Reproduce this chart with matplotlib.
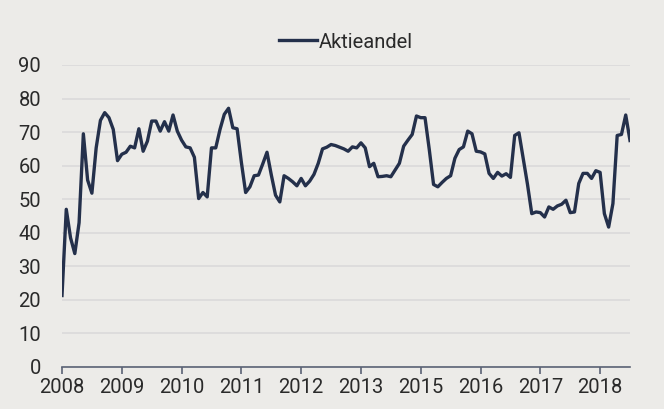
import matplotlib.pyplot as plt
import numpy as np

# monthly share of equities (Aktieandel)
aktieandel = [
    21.3, 47.0, 38.5, 33.8, 43.0, 69.5, 55.7, 51.8, 65.3, 73.5,
    75.8, 74.3, 70.8, 61.5, 63.4, 64.0, 65.8, 65.3, 71.0, 64.3,
    67.3, 73.3, 73.3, 70.3, 73.1, 70.3, 75.1, 70.3, 67.6, 65.6,
    65.3, 62.5, 50.2, 52.0, 50.7, 65.3, 65.3, 70.8, 75.3, 77.1,
    71.3, 71.0, 61.0, 52.0, 53.7, 57.0, 57.2, 60.5, 64.0, 57.3,
    51.2, 49.2, 57.0, 56.2, 55.2, 54.0, 56.2, 54.0, 55.4, 57.4,
    60.7, 65.0, 65.5, 66.3, 66.0, 65.5, 65.0, 64.3, 65.6, 65.3,
    66.8, 65.3, 59.7, 60.7, 56.7, 56.8, 57.0, 56.7, 58.7, 60.7,
    65.8, 67.6, 69.3, 74.8, 74.3, 74.3, 64.8, 54.4, 53.7, 55.0,
    56.2, 57.0, 62.2, 64.8, 65.6, 70.3, 69.5, 64.3, 64.1, 63.5,
    57.7, 56.2, 58.0, 56.9, 57.6, 56.5, 69.0, 69.8, 62.2, 54.4,
    45.7, 46.2, 46.0, 44.7, 47.7, 47.0, 48.0, 48.5, 49.7, 46.0,
    46.2, 54.7, 57.7, 57.7, 56.2, 58.5, 58.0, 45.7, 41.7, 48.7,
    69.0, 69.3, 75.1, 67.5,
]
tick_labels = ["2008", "2009", "2010", "2011", "2012",
               "2013", "2015", "2016", "2017", "2018"]
tick_step = 14  # one label every 14 months

bg = "#ECEBE8"
navy = "#24304B"
txt = "#2A2A2A"

plt.rcParams["font.family"] = ["Roboto", "DejaVu Sans"]

fig = plt.figure(figsize=(6.64, 4.09), dpi=100, facecolor=bg)
ax = fig.add_axes([62 / 664, 42 / 409, 568 / 664, 302 / 409], facecolor=bg)

x = np.arange(len(aktieandel))
ax.plot(x, aktieandel, color=navy, lw=2.4, solid_joinstyle="round",
        label="Aktieandel", zorder=3)

ax.set_xlim(0, len(aktieandel) - 1)
ax.set_ylim(0, 90)
ax.set_yticks(np.arange(0, 91, 10))
ax.set_xticks(np.arange(len(tick_labels)) * tick_step)
ax.set_xticklabels(tick_labels)

ax.grid(axis="y", color="#DADADA", lw=1.2)
ax.set_axisbelow(True)
for s in ["top", "right", "left"]:
    ax.spines[s].set_visible(False)
ax.spines["bottom"].set_color("#5B6375")
ax.spines["bottom"].set_linewidth(1.2)
ax.spines["bottom"].set_zorder(4)

ax.tick_params(axis="y", length=0, pad=15, labelsize=14.5, labelcolor=txt)
ax.tick_params(axis="x", length=5, width=1.2, color="#5B6375", pad=3,
               labelsize=14.5, labelcolor=txt)

leg = ax.legend(loc="center", bbox_to_anchor=(0.5, 1 + 23 / 302), frameon=False,
                handlelength=1.9, handletextpad=0.1, borderpad=0,
                prop={"size": 14.5})
for t in leg.get_texts():
    t.set_color(txt)

fig.savefig("out.png", dpi=100, facecolor=bg)
